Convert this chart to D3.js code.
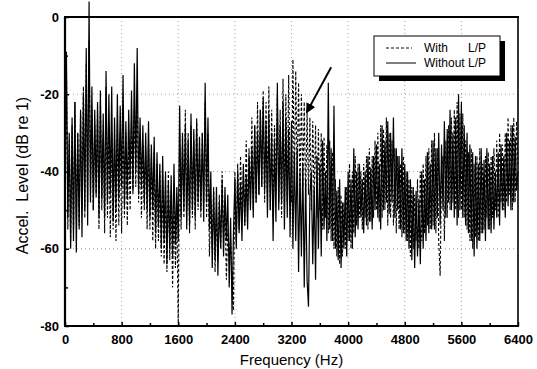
<!DOCTYPE html>
<html>
<head>
<meta charset="utf-8">
<script src="https://cdn.jsdelivr.net/npm/d3@7"></script>
<style>
  body { margin: 0; background: #fff; }
  text { font-family: Arial, "Liberation Sans", sans-serif; }
</style>
</head>
<body>
<svg id="chart" width="537" height="369"></svg>
<script>
// data (dB re 1), one value every 20 Hz from 0 to 6400 Hz, one row per 400 Hz
const freqStep = 20;

const withoutLP = [
  -45, -9, -52, -30, -60, -26, -58, -22, -61, -30, -55, -24, -57, -20, -50, -8, -54, 4, -48, -18,
  -50, -24, -46, -22, -52, -19, -47, -25, -52, -14, -48, -20, -46, -18, -53, -26, -50, -20, -47, -23,
  -44, -15, -49, -27, -47, -24, -42, -19, -45, -12, -40, -8, -46, -26, -44, -28, -48, -30, -50, -27,
  -52, -33, -50, -31, -56, -35, -54, -38, -60, -36, -58, -40, -64, -43, -60, -41, -62, -38, -59, -44,
  -58, -23, -52, -30, -50, -28, -55, -32, -54, -25, -50, -29, -52, -27, -48, -31, -50, -30, -53, -17,
  -48, -26, -55, -40, -65, -45, -63, -44, -67, -48, -60, -42, -62, -44, -58, -46, -70, -52, -77, -56,
  -42, -60, -40, -56, -43, -58, -38, -54, -41, -55, -36, -50, -34, -52, -28, -48, -30, -46, -24, -44,
  -21, -45, -27, -52, -25, -50, -30, -58, -32, -53, -17, -50, -28, -48, -22, -55, -26, -52, -29, -57,
  -27, -60, -35, -58, -34, -66, -40, -62, -38, -70, -42, -68, -75, -46, -40, -64, -44, -68, -36, -60,
  -38, -62, -32, -55, -40, -58, -17, -55, -34, -58, -23, -60, -45, -63, -42, -65, -48, -60, -44, -62,
  -40, -58, -42, -60, -34, -57, -40, -55, -38, -52, -42, -56, -40, -54, -36, -53, -39, -55, -36, -50,
  -33, -52, -38, -55, -28, -50, -32, -48, -27, -51, -30, -48, -26, -52, -34, -50, -36, -55, -34, -56,
  -38, -58, -40, -60, -42, -63, -44, -65, -45, -62, -47, -64, -40, -60, -42, -58, -35, -56, -38, -55,
  -32, -55, -34, -52, -30, -54, -33, -50, -27, -52, -29, -48, -24, -50, -30, -52, -26, -54, -20, -50,
  -22, -52, -28, -54, -30, -56, -33, -58, -35, -62, -36, -60, -38, -58, -34, -56, -37, -58, -34, -55,
  -38, -56, -36, -55, -40, -52, -35, -54, -33, -50, -36, -52, -30, -49, -32, -50, -28, -48, -31, -45,
  -40
];

const withLP = [
  -50, -12, -55, -32, -58, -28, -56, -22, -52, -30, -54, -25, -50, -18, -52, -12, -48, -6, -46, -24,
  -50, -28, -47, -25, -55, -22, -50, -30, -56, -18, -52, -28, -57, -30, -55, -32, -58, -28, -54, -30,
  -56, -26, -52, -30, -54, -32, -50, -28, -46, -24, -44, -20, -48, -30, -52, -33, -50, -34, -55, -32,
  -55, -36, -58, -35, -60, -38, -58, -40, -62, -42, -64, -44, -66, -40, -63, -45, -70, -48, -65, -50,
  -80, -30, -55, -33, -52, -24, -50, -30, -56, -28, -52, -32, -55, -26, -50, -34, -52, -30, -48, -22,
  -52, -30, -62, -48, -60, -44, -66, -50, -62, -46, -60, -40, -58, -48, -68, -55, -62, -58, -66, -76,
  -40, -58, -38, -55, -36, -52, -40, -54, -32, -50, -34, -48, -26, -50, -28, -48, -22, -46, -24, -44,
  -19, -48, -22, -46, -18, -50, -24, -52, -28, -46, -20, -48, -24, -52, -16, -50, -20, -48, -15, -44,
  -48, -11, -45, -14, -42, -17, -46, -20, -44, -22, -48, -24, -46, -26, -50, -27, -48, -28, -52, -29,
  -50, -30, -55, -31, -52, -33, -56, -32, -58, -35, -60, -42, -62, -44, -64, -46, -62, -48, -60, -44,
  -58, -38, -60, -40, -56, -36, -54, -38, -52, -40, -55, -38, -52, -36, -55, -34, -53, -36, -52, -32,
  -50, -30, -53, -28, -52, -29, -50, -26, -54, -30, -52, -32, -54, -34, -56, -36, -55, -38, -57, -36,
  -56, -40, -58, -42, -62, -44, -60, -46, -58, -42, -60, -40, -58, -38, -56, -36, -54, -34, -55, -32,
  -54, -30, -56, -34, -58, -67, -40, -36, -58, -32, -52, -28, -50, -26, -48, -24, -50, -22, -52, -25,
  -50, -25, -52, -32, -55, -35, -58, -34, -60, -38, -57, -36, -58, -34, -56, -38, -55, -36, -52, -35,
  -55, -36, -52, -34, -50, -32, -52, -30, -48, -33, -50, -30, -48, -26, -46, -28, -50, -26, -48, -27,
  -38
];

const xTicks = [0, 800, 1600, 2400, 3200, 4000, 4800, 5600, 6400];
const xMinor = [400, 1200, 2000, 2800, 3600, 4400, 5200, 6000];
const yTicks = [0, -20, -40, -60, -80];
const yMinor = [-10, -30, -50, -70];
const legendLabels = ['With', 'Without'];

// dimensions
const margin = { top: 17, right: 19, bottom: 43, left: 65 };
const width = 537 - margin.left - margin.right;
const height = 369 - margin.top - margin.bottom;

const svg = d3.select('#chart')
  .append('g')
  .attr('transform', `translate(${margin.left},${margin.top})`);

const x = d3.scaleLinear().domain([0, 6400]).range([0, width]);
const y = d3.scaleLinear().domain([-80, 0]).range([height, 0]);

// dotted grid
svg.append('g')
  .selectAll('line')
  .data(yTicks.slice(1, -1))
  .enter().append('line')
  .attr('x1', 0).attr('x2', width)
  .attr('y1', d => y(d)).attr('y2', d => y(d))
  .attr('stroke', '#888').attr('stroke-width', 0.8)
  .attr('stroke-dasharray', '1,3');

svg.append('g')
  .selectAll('line')
  .data(xTicks.slice(1, -1))
  .enter().append('line')
  .attr('x1', d => x(d)).attr('x2', d => x(d))
  .attr('y1', 0).attr('y2', height)
  .attr('stroke', '#888').attr('stroke-width', 0.8)
  .attr('stroke-dasharray', '1,3');

// series
const line = d3.line()
  .x((d, i) => x(i * freqStep))
  .y(d => y(d));

svg.append('path')
  .datum(withLP)
  .attr('d', line)
  .attr('fill', 'none')
  .attr('stroke', '#000')
  .attr('stroke-width', 1.1)
  .attr('stroke-dasharray', '3,2');

svg.append('path')
  .datum(withoutLP)
  .attr('d', line)
  .attr('fill', 'none')
  .attr('stroke', '#000')
  .attr('stroke-width', 1.2);

// axes with inward ticks
const xAxis = svg.append('g')
  .attr('transform', `translate(0,${height})`)
  .call(d3.axisBottom(x).tickValues(xTicks).tickSize(-4).tickPadding(9).tickFormat(d => String(d)));
const xAxisMinor = svg.append('g')
  .attr('transform', `translate(0,${height})`)
  .call(d3.axisBottom(x).tickValues(xMinor).tickSize(-3).tickFormat(''));

const yAxis = svg.append('g')
  .call(d3.axisLeft(y).tickValues(yTicks).tickSize(-4).tickPadding(6).tickFormat(d => String(d)));
const yAxisMinor = svg.append('g')
  .call(d3.axisLeft(y).tickValues(yMinor).tickSize(-3).tickFormat(''));

[xAxis, xAxisMinor, yAxis, yAxisMinor].forEach(a => {
  a.select('.domain').remove();
  a.selectAll('.tick line').attr('stroke', '#000').attr('stroke-width', 1.5);
  a.selectAll('text')
    .attr('font-size', 13)
    .attr('font-weight', 'bold')
    .attr('fill', '#000')
    .style('font-family', 'Arial, "Liberation Sans", sans-serif');
});

// frame
svg.append('line').attr('x1', -1).attr('x2', width + 1).attr('y1', 0).attr('y2', 0)
  .attr('stroke', '#000').attr('stroke-width', 2.2);
svg.append('line').attr('x1', -1).attr('x2', width + 1).attr('y1', height).attr('y2', height)
  .attr('stroke', '#000').attr('stroke-width', 2.2);
svg.append('line').attr('x1', 0).attr('x2', 0).attr('y1', 0).attr('y2', height)
  .attr('stroke', '#000').attr('stroke-width', 2.2);
svg.append('line').attr('x1', width).attr('x2', width).attr('y1', 0).attr('y2', height)
  .attr('stroke', '#000').attr('stroke-width', 1.6);

// axis titles
svg.append('text')
  .attr('x', width / 2)
  .attr('y', height + 39)
  .attr('text-anchor', 'middle')
  .attr('font-size', 15)
  .text('Frequency (Hz)');

svg.append('text')
  .attr('transform', `translate(${-37},${height / 2 + 4}) rotate(-90)`)
  .attr('text-anchor', 'middle')
  .attr('font-size', 16)
  .attr('xml:space', 'preserve')
  .style('white-space', 'pre')
  .text('Accel.  Level (dB re 1)');

// legend
const legend = svg.append('g').attr('transform', `translate(${374 - margin.left},${36 - margin.top})`);
legend.append('rect')
  .attr('x', 5).attr('y', 5).attr('width', 126).attr('height', 40)
  .attr('fill', '#000');
legend.append('rect')
  .attr('x', 0).attr('y', 0).attr('width', 126).attr('height', 40)
  .attr('fill', '#fff').attr('stroke', '#000').attr('stroke-width', 1);

legend.append('line')
  .attr('x1', 12).attr('x2', 38).attr('y1', 12).attr('y2', 12)
  .attr('stroke', '#000').attr('stroke-dasharray', '3,2');
legend.append('line')
  .attr('x1', 12).attr('x2', 42).attr('y1', 27).attr('y2', 27)
  .attr('stroke', '#000');

legend.selectAll('.lab')
  .data(legendLabels)
  .enter().append('text')
  .attr('class', 'lab')
  .attr('x', 50)
  .attr('y', (d, i) => 16 + i * 15)
  .attr('font-size', 12)
  .text(d => d);
legend.selectAll('.lp')
  .data(legendLabels)
  .enter().append('text')
  .attr('class', 'lp')
  .attr('x', 94)
  .attr('y', (d, i) => 16 + i * 15)
  .attr('font-size', 12)
  .text('L/P');

// arrow pointing at the with-L/P hump
const defs = d3.select('#chart').append('defs');
defs.append('marker')
  .attr('id', 'head')
  .attr('viewBox', '0 0 10 10')
  .attr('refX', 8).attr('refY', 5)
  .attr('markerWidth', 5).attr('markerHeight', 5)
  .attr('orient', 'auto')
  .append('path')
  .attr('d', 'M0,0L10,5L0,10z')
  .attr('fill', '#000');

svg.append('line')
  .attr('x1', x(3760)).attr('y1', y(-13))
  .attr('x2', x(3420)).attr('y2', y(-24.5))
  .attr('stroke', '#000')
  .attr('stroke-width', 2)
  .attr('marker-end', 'url(#head)');
</script>
</body>
</html>
